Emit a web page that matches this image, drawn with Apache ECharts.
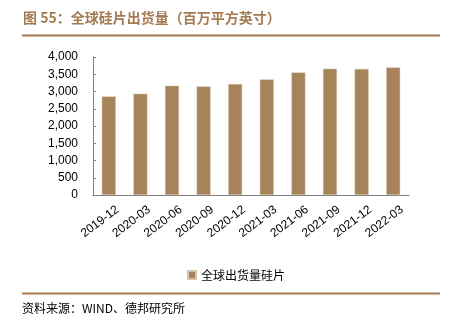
<!DOCTYPE html>
<html><head><meta charset="utf-8">
<script src="https://cdn.jsdelivr.net/npm/echarts@6/dist/echarts.min.js"></script>
<style>html,body{margin:0;padding:0;background:#fff}#c{width:451px;height:325px}</style>
</head><body><div id="c"></div>
<script>
const categories = ['2019-12','2020-03','2020-06','2020-09','2020-12','2021-03','2021-06','2021-09','2021-12','2022-03'];
const shipments = [2858, 2936, 3168, 3148, 3217, 3351, 3554, 3661, 3655, 3699];
const yTicks = [0, 500, 1000, 1500, 2000, 2500, 3000, 3500, 4000];
const seriesName = '全球出货量硅片';
const titleText = '图 55：全球硅片出货量（百万平方英寸）';
const sourceText = '资料来源：WIND、德邦研究所';

const chart = echarts.init(document.getElementById('c'), null, {renderer: 'canvas'});
const brown = '#a6835b';
chart.setOption({
  animation: false,
  grid: {left: 93, right: 42, top: 57, bottom: 130, containLabel: false},
  xAxis: {
    type: 'category', data: categories, boundaryGap: true,
    axisLine: {lineStyle: {color: '#808080', width: 1}},
    axisTick: {inside: true, length: 3, lineStyle: {color: '#808080'}},
    axisLabel: {rotate: 37, interval: 0, fontSize: 12, color: '#000', fontFamily: 'Liberation Sans, Arial, sans-serif', margin: 20,
      padding: [0, -11, 0, 0]}
  },
  yAxis: {
    type: 'value', min: yTicks[0], max: yTicks[yTicks.length-1], interval: 500,
    splitLine: {show: false},
    axisLine: {show: true, lineStyle: {color: '#808080', width: 1}},
    axisTick: {show: true, inside: true, length: 3, lineStyle: {color: '#808080'}},
    axisLabel: {fontSize: 12, color: '#000', fontFamily: 'Liberation Sans, Arial, sans-serif', margin: 15,
      formatter: v => v.toLocaleString('en-US')}
  },
  legend: {
    data: [seriesName], left: 182, top: 264, itemWidth: 8, itemHeight: 8, itemGap: 4,
    icon: 'rect',
    textStyle: {fontSize: 12, color: '#000', fontFamily: 'Noto Sans CJK SC'}
  },
  series: [{
    name: seriesName, type: 'bar', data: shipments, barWidth: 14,
    itemStyle: {color: brown, borderColor: '#d8c4ad', borderWidth: 0.5}
  }],
  graphic: [
    {type: 'text', left: 23, top: 11, style: {text: titleText, fill: '#a57a52', font: 'bold 14px "Noto Sans CJK SC", sans-serif'}},
    {type: 'rect', shape: {x: 22, y: 34.5, width: 418, height: 2}, style: {fill: '#a57a52'}},
    {type: 'rect', shape: {x: 22, y: 292.5, width: 418, height: 2}, style: {fill: '#a57a52'}},
    {type: 'text', left: 22, top: 302, style: {text: sourceText, fill: '#000', font: '12px "Noto Sans CJK SC", sans-serif'}}
  ]
});
</script></body></html>
